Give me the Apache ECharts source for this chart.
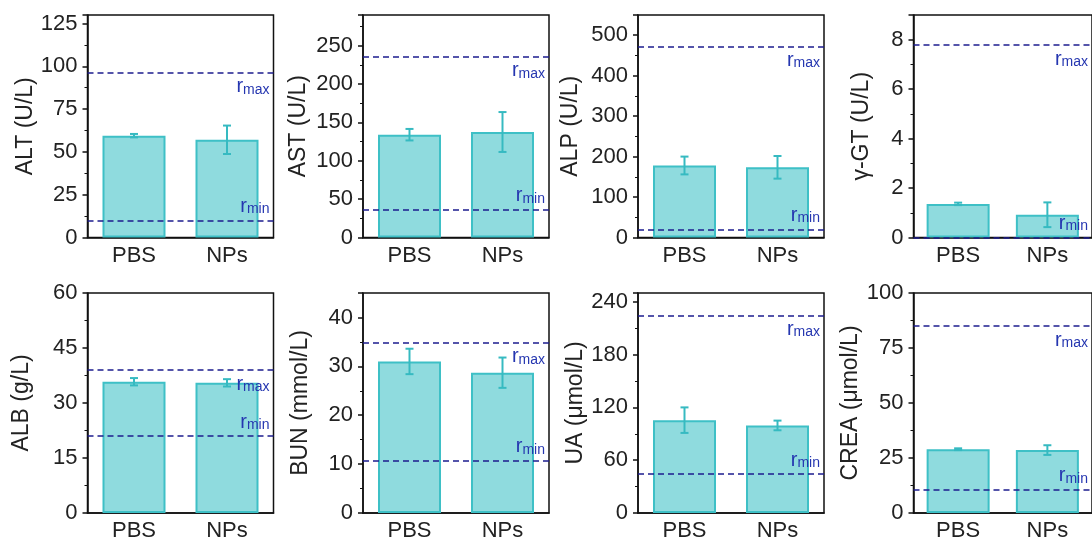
<!DOCTYPE html>
<html>
<head>
<meta charset="utf-8">
<script src="https://cdn.jsdelivr.net/npm/echarts@6/dist/echarts.min.js"></script>
<style>
  html, body { margin: 0; padding: 0; background: #fff; }
  #container { width: 1092px; height: 542px; }
</style>
</head>
<body>
<div id="container"></div>
<script>
const groups = ["PBS", "NPs"];
const panelNames = [
  "ALT (U/L)", "AST (U/L)", "ALP (U/L)", "γ-GT (U/L)",
  "ALB (g/L)", "BUN (mmol/L)", "UA (μmol/L)", "CREA (μmol/L)",
];
const meanValues = [
  [59.5, 57.1], [134, 137.5], [178, 173.5], [1.36, 0.92],
  [35.8, 35.5], [31, 28.7], [105.5, 99.5], [29, 28.6],
];
const errValues = [
  [1, 8.3], [7.5, 26], [22, 28], [0.05, 0.5],
  [1, 1], [2.6, 3.1], [14.5, 5.5], [0.4, 2.2],
];
const rMax = [96.3, 235.5, 472, 7.78, 39, 34.8, 224.5, 84.9];
const rMin = [10, 36, 20, 0, 21, 10.7, 44.2, 10.6];
const axisMax = [130, 290, 550, 9, 60, 45, 250, 100];
const axisStep = [25, 50, 100, 2, 15, 10, 60, 25];

// layout of the 2x4 panels (px)
const lefts = [87.5, 363, 638, 913.5];
const tops = [15, 293];
const heights = [222.5, 221];
const nameGaps = [50, 53, 56, 40, 54, 51, 51, 51];

const barFill = "#8fdbde";
const barEdge = "#3ec0c6";
const refColor = "#1c1c8e";
const refText = "#2536b0";
const ink = "#222";

const myChart = echarts.init(document.getElementById("container"), null, {
  renderer: "canvas",
});

function errorBarItem(params, api) {
  const x = api.value(0);
  const mean = api.value(1);
  const err = api.value(2);
  const hi = api.coord([x, mean + err]);
  const lo = api.coord([x, mean - err]);
  const cap = 4;
  const style = { stroke: "#36bac1", lineWidth: 2 };
  return {
    type: "group",
    children: [
      { type: "line", shape: { x1: hi[0], y1: hi[1], x2: lo[0], y2: lo[1] }, style },
      { type: "line", shape: { x1: hi[0] - cap, y1: hi[1], x2: hi[0] + cap, y2: hi[1] }, style },
      { type: "line", shape: { x1: lo[0] - cap, y1: lo[1], x2: lo[0] + cap, y2: lo[1] }, style },
    ],
  };
}

const refRich = {
  r: { fontSize: 20, color: refText, lineHeight: 20, verticalAlign: "top" },
  s: { fontSize: 14, color: refText, lineHeight: 14, padding: [8, 0, 0, 0], verticalAlign: "bottom" },
};

const grids = [], xAxes = [], yAxes = [], series = [];

panelNames.forEach((name, i) => {
  const row = Math.floor(i / 4);
  const col = i % 4;
  grids.push({
    left: lefts[col],
    top: tops[row],
    width: 186,
    height: heights[row],
    show: true,
    borderColor: "#111",
    borderWidth: 1.5,
  });
  xAxes.push({
    type: "category",
    gridIndex: i,
    data: groups,
    axisLine: { lineStyle: { color: "#111", width: 1.5 } },
    axisTick: { show: false },
    axisLabel: { fontSize: 22, color: ink, margin: 7 },
  });
  yAxes.push({
    type: "value",
    gridIndex: i,
    min: 0,
    max: axisMax[i],
    interval: axisStep[i],
    name: name,
    nameLocation: "middle",
    nameGap: nameGaps[i],
    nameTextStyle: { fontSize: 23, color: ink },
    splitLine: { show: false },
    axisLine: { show: true, lineStyle: { color: "#111", width: 1.5 } },
    axisTick: { show: true, length: 5, lineStyle: { color: "#111", width: 1.5 } },
    minorTick: { show: true, splitNumber: 2, length: 3, lineStyle: { color: "#111", width: 1 } },
    axisLabel: {
      fontSize: 22,
      color: ink,
      margin: 10,
      showMaxLabel: axisMax[i] % axisStep[i] === 0,
    },
  });
  series.push({
    type: "bar",
    xAxisIndex: i,
    yAxisIndex: i,
    barWidth: 63,
    data: meanValues[i],
    itemStyle: { color: barFill, borderColor: barEdge, borderWidth: 2 },
    markLine: {
      silent: true,
      symbol: "none",
      lineStyle: { color: refColor, type: [6, 4], width: 1.5 },
      label: { rich: refRich, distance: 4 },
      data: [
        { yAxis: rMax[i], label: { position: "insideEndBottom", formatter: "{r|r}{s|max}" } },
        { yAxis: rMin[i], label: { position: "insideEndTop", formatter: "{r|r}{s|min}" } },
      ],
    },
  });
  series.push({
    type: "custom",
    xAxisIndex: i,
    yAxisIndex: i,
    z: 5,
    renderItem: errorBarItem,
    encode: { x: 0, y: 1 },
    data: groups.map((g, k) => [k, meanValues[i][k], errValues[i][k]]),
  });
});

myChart.setOption({
  animation: false,
  textStyle: { fontFamily: "'Liberation Sans', Arial, sans-serif" },
  grid: grids,
  xAxis: xAxes,
  yAxis: yAxes,
  series: series,
});

window.addEventListener("resize", myChart.resize);
</script>
</body>
</html>
